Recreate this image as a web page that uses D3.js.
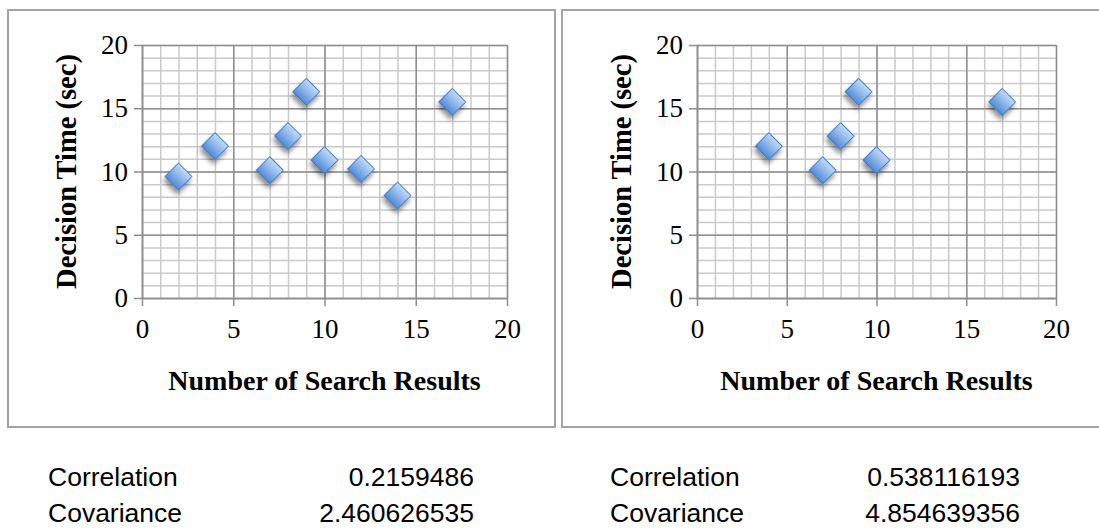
<!DOCTYPE html>
<html>
<head>
<meta charset="utf-8">
<script src="https://cdn.jsdelivr.net/npm/d3@7"></script>
<style>
  html, body { margin: 0; padding: 0; background: #fff; }
  svg { display: block; }
</style>
</head>
<body>
<svg id="chart" width="1099" height="529"></svg>
<script>
// Search results vs. decision time, all trials and a subset
const axisTicks = [0, 5, 10, 15, 20];
const allResults = [2, 4, 7, 8, 9, 10, 12, 14, 17];
const allTimes   = [9.6, 12.0, 10.1, 12.8, 16.3, 10.9, 10.2, 8.1, 15.5];
const subResults = [4, 7, 8, 9, 10, 17];
const subTimes   = [12.0, 10.1, 12.8, 16.3, 10.9, 15.5];
const statNames  = ["Correlation", "Covariance"];
const allStats   = ["0.2159486", "2.460626535"];
const subStats   = ["0.538116193", "4.854639356"];
const xTitle = "Number of Search Results";
const yTitle = "Decision Time (sec)";

const svg = d3.select("#chart");
const serif = "'Liberation Serif', 'Times New Roman', serif";
const sans = "'Liberation Sans', Arial, sans-serif";

// gradient + shadow for the diamond markers
const defs = svg.append("defs");
const grad = defs.append("linearGradient")
  .attr("id", "diamondFill").attr("x1", 0).attr("y1", 0).attr("x2", 0).attr("y2", 1);
grad.append("stop").attr("offset", "0%").attr("stop-color", "#c3daf6");
grad.append("stop").attr("offset", "50%").attr("stop-color", "#8cb5ea");
grad.append("stop").attr("offset", "100%").attr("stop-color", "#4f8bd8");
const shadow = defs.append("filter").attr("id", "markerShadow")
  .attr("x", "-50%").attr("y", "-50%").attr("width", "200%").attr("height", "200%");
shadow.append("feGaussianBlur").attr("in", "SourceAlpha").attr("stdDeviation", 2.4).attr("result", "b");
shadow.append("feOffset").attr("in", "b").attr("dx", 1.5).attr("dy", 4).attr("result", "o");
shadow.append("feComponentTransfer").attr("in", "o").attr("result", "s")
  .append("feFuncA").attr("type", "linear").attr("slope", 0.45);
const merge = shadow.append("feMerge");
merge.append("feMergeNode").attr("in", "s");
merge.append("feMergeNode").attr("in", "SourceGraphic");

const panels = [
  { xs: allResults, ys: allTimes, frame: [8, 10, 547, 417], plot: [142, 507, 45, 298] },
  { xs: subResults, ys: subTimes, frame: [562, 10, 560, 417], plot: [697, 1056, 45, 298] }
];

panels.forEach(p => {
  const [fx, fy, fw, fh] = p.frame;
  svg.append("rect")
    .attr("x", fx).attr("y", fy).attr("width", fw).attr("height", fh)
    .attr("fill", "#fff").attr("stroke", "#a3a3a3").attr("stroke-width", 2);

  const [left, right, top, bottom] = p.plot;
  const x = d3.scaleLinear().domain([0, 20]).range([left, right]);
  const y = d3.scaleLinear().domain([0, 20]).range([bottom, top]);
  const g = svg.append("g");

  // minor grid every unit
  const minor = d3.range(0, 21);
  g.append("g").attr("transform", `translate(0,${bottom})`)
    .call(d3.axisBottom(x).tickValues(minor).tickSize(-(bottom - top)).tickFormat(""))
    .call(a => a.select(".domain").remove())
    .call(a => a.selectAll("line").attr("stroke", "#cacaca").attr("stroke-width", 1.5));
  g.append("g").attr("transform", `translate(${left},0)`)
    .call(d3.axisLeft(y).tickValues(minor).tickSize(-(right - left)).tickFormat(""))
    .call(a => a.select(".domain").remove())
    .call(a => a.selectAll("line").attr("stroke", "#cacaca").attr("stroke-width", 1.5));

  // major grid every five
  g.append("g").attr("transform", `translate(0,${bottom})`)
    .call(d3.axisBottom(x).tickValues(axisTicks).tickSize(-(bottom - top)).tickFormat(""))
    .call(a => a.select(".domain").remove())
    .call(a => a.selectAll("line").attr("stroke", "#8e8e8e").attr("stroke-width", 1.5));
  g.append("g").attr("transform", `translate(${left},0)`)
    .call(d3.axisLeft(y).tickValues(axisTicks).tickSize(-(right - left)).tickFormat(""))
    .call(a => a.select(".domain").remove())
    .call(a => a.selectAll("line").attr("stroke", "#8e8e8e").attr("stroke-width", 1.5));

  // axes with outer ticks and labels
  const xAxis = g.append("g").attr("transform", `translate(0,${bottom})`)
    .call(d3.axisBottom(x).tickValues(axisTicks).tickSize(8).tickSizeOuter(0).tickPadding(13));
  const yAxis = g.append("g").attr("transform", `translate(${left},0)`)
    .call(d3.axisLeft(y).tickValues(axisTicks).tickSize(8).tickSizeOuter(0).tickPadding(6));
  [xAxis, yAxis].forEach(a => {
    a.select(".domain").attr("stroke", "#8e8e8e").attr("stroke-width", 1.5);
    a.selectAll(".tick line").attr("stroke", "#8e8e8e").attr("stroke-width", 1.5);
    a.selectAll("text").attr("fill", "#000")
      .style("font-family", serif).style("font-size", "27px");
  });

  // axis titles
  svg.append("text")
    .attr("x", (left + right) / 2).attr("y", bottom + 92)
    .attr("text-anchor", "middle")
    .style("font-family", serif).style("font-size", "28px").style("font-weight", "bold")
    .text(xTitle);
  svg.append("text")
    .attr("transform", `translate(${left - 66},${(top + bottom) / 2}) rotate(-90)`)
    .attr("text-anchor", "middle")
    .style("font-family", serif).style("font-size", "28.5px").style("font-weight", "bold")
    .text(yTitle);

  // diamond markers
  const sym = d3.symbol().type(d3.symbolSquare).size(19 * 19);
  g.selectAll("path.pt")
    .data(p.xs.map((v, i) => [v, p.ys[i]]))
    .join("path")
    .attr("class", "pt")
    .attr("d", sym)
    .attr("transform", d => `translate(${x(d[0])},${y(d[1])}) rotate(45)`)
    .attr("fill", "url(#diamondFill)")
    .attr("stroke", "#3f78c6")
    .attr("stroke-width", 1)
    .attr("filter", "url(#markerShadow)");
});

// summary statistics under each chart
const statCols = [
  { labelX: 48, valueX: 474, values: allStats },
  { labelX: 610, valueX: 1020, values: subStats }
];
const rowY = d3.scalePoint().domain(statNames).range([486, 522]);
statCols.forEach(c => {
  statNames.forEach((name, i) => {
    svg.append("text").attr("x", c.labelX).attr("y", rowY(name))
      .style("font-family", sans).style("font-size", "26.5px").text(name);
    svg.append("text").attr("x", c.valueX).attr("y", rowY(name))
      .attr("text-anchor", "end")
      .style("font-family", sans).style("font-size", "26.5px").text(c.values[i]);
  });
});
</script>
</body>
</html>
